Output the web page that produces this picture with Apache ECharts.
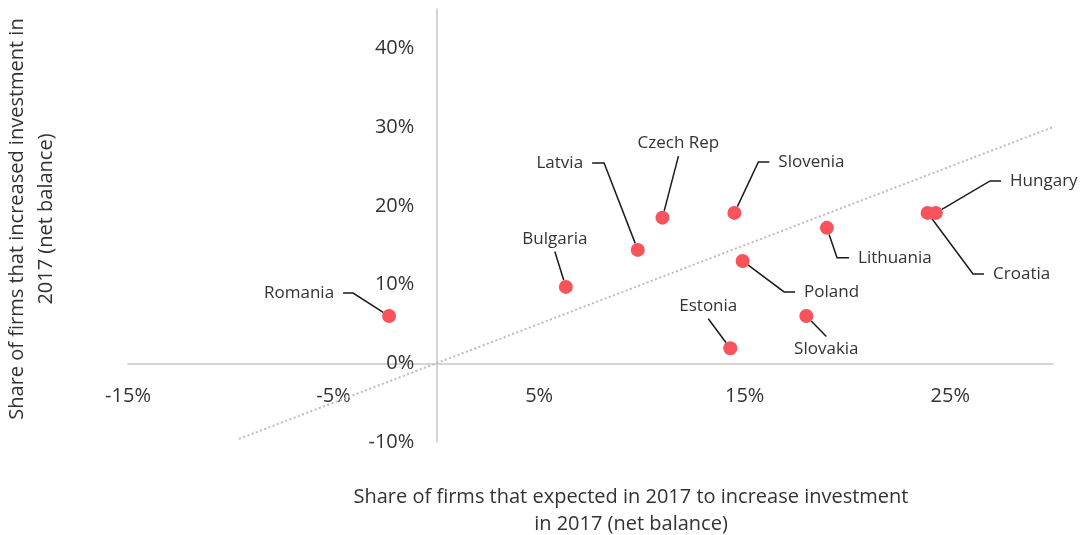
<!DOCTYPE html>
<html>
<head>
<meta charset="utf-8">
<script src="https://cdn.jsdelivr.net/npm/echarts@6/dist/echarts.min.js"></script>
<style>
    html, body { margin: 0; padding: 0; background: #fff; }
    #chart { width: 1081px; height: 535px; }
</style>
</head>
<body>
<div id="chart"></div>
<script>
    // data (net balance, %)
    var countries = ['Romania', 'Bulgaria', 'Latvia', 'Czech Rep', 'Slovenia', 'Poland', 'Estonia', 'Slovakia', 'Lithuania', 'Croatia', 'Hungary'];
    var expected = [-2.3, 6.3, 9.8, 11.0, 14.5, 14.9, 14.3, 18.0, 19.0, 23.9, 24.3];
    var increased = [6.0, 9.7, 14.4, 18.5, 19.1, 13.0, 1.9, 6.0, 17.2, 19.1, 19.1];
    var diagonal = [[-9.6, -9.6], [30, 30]];

    var xTitle = 'Share of firms that expected in 2017 to increase investment\nin 2017 (net balance)';
    var yTitle = 'Share of firms that increased investment in\n2017 (net balance)';

    // label offsets from the dot [dx, dy, length of the flat part of the leader]
    var labelPos = {
        'Romania': [-90, -23, 10],
        'Bulgaria': [-11, -48, 0],
        'Latvia': [-78, -87, 12],
        'Czech Rep': [16, -74, 0],
        'Slovenia': [77, -51, 11],
        'Poland': [89, 31, 11],
        'Estonia': [-22, -42, 0],
        'Slovakia': [20, 33, 0],
        'Lithuania': [68, 30, 12],
        'Croatia': [94, 61, 11],
        'Hungary': [108, -32, 11]
    };

    var font = '"Open Sans", "Noto Sans", sans-serif';
    var textColor = '#333333';
    var axisColor = '#c6c6c6';

    var points = countries.map(function (name, i) {
        return {
            name: name,
            value: [expected[i], increased[i]],
            labelLine: { length2: labelPos[name][2] }
        };
    });

    var chart = echarts.init(document.getElementById('chart'));
    var option = {
        animation: false,
        backgroundColor: '#ffffff',
        grid: {
            left: 128,
            right: 28,
            top: 9,
            bottom: 93
        },
        xAxis: {
            type: 'value',
            min: -15,
            max: 30,
            interval: 10,
            axisLine: { onZero: false, lineStyle: { color: axisColor, width: 1.5 } },
            axisTick: { show: false },
            splitLine: { show: false },
            axisLabel: {
                margin: 23,
                showMaxLabel: false,
                formatter: '{value}%',
                color: textColor,
                fontFamily: font,
                fontSize: 20
            }
        },
        yAxis: {
            type: 'value',
            min: -10,
            max: 45,
            interval: 10,
            axisLine: { onZero: false, lineStyle: { color: axisColor, width: 1.5 } },
            axisTick: { show: false },
            splitLine: { show: false },
            axisLabel: {
                margin: 22,
                showMaxLabel: false,
                formatter: '{value}%',
                color: textColor,
                fontFamily: font,
                fontSize: 20
            }
        },
        graphic: [
            {
                type: 'text',
                x: 631,
                y: 511,
                style: {
                    text: xTitle,
                    font: '20px ' + font,
                    fill: textColor,
                    align: 'center',
                    verticalAlign: 'middle',
                    lineHeight: 27
                }
            },
            {
                type: 'text',
                x: 32,
                y: 219,
                rotation: Math.PI / 2,
                style: {
                    text: yTitle,
                    font: '20px ' + font,
                    fill: textColor,
                    align: 'center',
                    verticalAlign: 'middle',
                    lineHeight: 29
                }
            }
        ],
        series: [
            {
                type: 'line',
                data: diagonal,
                symbol: 'none',
                silent: true,
                lineStyle: { color: '#bdbdbd', width: 2, type: [2, 2.5] },
                z: 1
            },
            {
                type: 'scatter',
                data: points,
                symbolSize: 14,
                itemStyle: { color: '#f8535b', opacity: 1 },
                emphasis: { disabled: true },
                label: {
                    show: true,
                    position: 'inside',
                    formatter: '{b}',
                    color: textColor,
                    textBorderWidth: 0,
                    fontFamily: font,
                    fontSize: 17,
                    padding: [4, 9],
                    backgroundColor: 'rgba(255,255,255,0)'
                },
                labelLine: {
                    show: true,
                    length2: 11,
                    lineStyle: { color: '#1a1a1a', width: 1.5 }
                },
                labelLayout: function (params) {
                    var p = labelPos[countries[params.dataIndex]];
                    return { dx: p[0], dy: p[1] };
                },
                z: 3
            }
        ]
    };
    chart.setOption(option);

    // put both axes (line and labels) through the origin
    var origin = chart.convertToPixel({ gridIndex: 0 }, [0, 0]);
    var corner = chart.convertToPixel({ gridIndex: 0 }, [-15, -10]);
    chart.setOption({
        xAxis: { offset: origin[1] - corner[1] },
        yAxis: { offset: corner[0] - origin[0] }
    });
</script>
</body>
</html>
